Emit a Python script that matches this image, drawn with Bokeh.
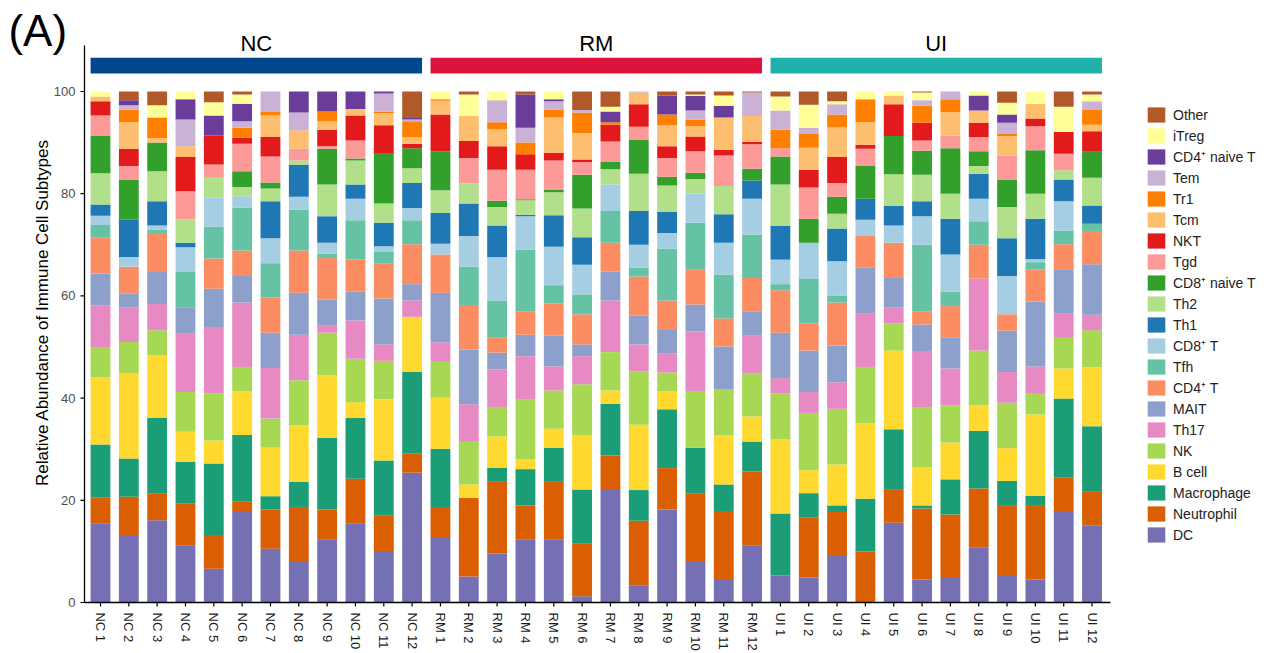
import math
from bokeh.plotting import figure
from bokeh.models import Range1d, FixedTicker, Legend, LegendItem, Label, ColumnDataSource
from bokeh.core.properties import value
from bokeh.embed import file_html
from bokeh.resources import INLINE

samples = ["NC 1", "NC 2", "NC 3", "NC 4", "NC 5", "NC 6", "NC 7", "NC 8", "NC 9", "NC 10", "NC 11", "NC 12",
           "RM 1", "RM 2", "RM 3", "RM 4", "RM 5", "RM 6", "RM 7", "RM 8", "RM 9", "RM 10", "RM 11", "RM 12",
           "UI 1", "UI 2", "UI 3", "UI 4", "UI 5", "UI 6", "UI 7", "UI 8", "UI 9", "UI 10", "UI 11", "UI 12"]
groups = ["NC", "RM", "UI"]
group_colors = ["#00478D", "#DC143C", "#20B2AA"]
y_ticks = [0, 20, 40, 60, 80, 100]
y_label = "Relative Abundance of Immune Cell Subtypes"

# stack order: bottom -> top
keys = ["DC", "Neutrophil", "Macrophage", "B_cell", "NK", "Th17", "MAIT", "CD4_T", "Tfh", "CD8_T",
        "Th1", "Th2", "CD8_naive_T", "Tgd", "NKT", "Tcm", "Tr1", "Tem", "CD4_naive_T", "iTreg", "Other"]
labels = ["DC", "Neutrophil", "Macrophage", "B cell", "NK", "Th17", "MAIT", "CD4\u207a T", "Tfh", "CD8\u207a T",
          "Th1", "Th2", "CD8\u207a naive T", "Tgd", "NKT", "Tcm", "Tr1", "Tem", "CD4\u207a naive T", "iTreg", "Other"]
colors = ["#7570B3", "#D95F02", "#1B9E77", "#FFD92F", "#A6D854", "#E78AC3", "#8DA0CB", "#FC8D62", "#66C2A5", "#A6CEE3",
          "#1F78B4", "#B2DF8A", "#33A02C", "#FB9A99", "#E31A1C", "#FDBF6F", "#FF7F00", "#CAB2D6", "#6A3D9A", "#FFFF99", "#B15928"]

DC = [15.5, 13, 16.1, 11.1, 6.6, 17.9, 10.5, 8.1, 12.3, 15.4, 10.1, 25.4,
      12.8, 5.1, 9.6, 12.3, 12.3, 1.2, 22.2, 3.4, 18.2, 8.1, 4.4, 11.1,
      5.3, 4.9, 9.1, 0, 15.6, 4.5, 4.8, 10.7, 5.2, 4.5, 17.9, 15.1]
Neutrophil = [5.1, 7.7, 5.2, 8.3, 6.6, 1.8, 7.7, 10.6, 5.9, 8.8, 6.9, 3.7,
              5.9, 15.4, 14.0, 6.7, 11.3, 10.3, 6.6, 12.6, 8.1, 13.2, 13.5, 14.6,
              0, 11.8, 8.6, 10.0, 6.6, 13.9, 12.4, 11.6, 13.7, 14.4, 6.5, 6.7]
Macrophage = [10.3, 7.5, 14.8, 8.1, 14.0, 13.1, 2.6, 4.9, 14.0, 11.9, 10.8, 16.0,
              11.4, 0, 2.8, 7.1, 6.7, 10.6, 10.1, 6.0, 11.5, 9.0, 5.2, 5.8,
              12.1, 4.7, 1.3, 10.3, 11.7, 0.6, 6.9, 11.3, 4.9, 2.0, 15.5, 12.7]
B_cell = [13.2, 16.6, 12.3, 5.9, 4.5, 8.5, 9.5, 11.1, 12.3, 3.1, 12.0, 10.8,
          10.0, 2.6, 6.1, 1.9, 3.7, 10.7, 2.6, 12.8, 3.5, 0, 9.7, 4.9,
          14.5, 4.5, 8.0, 14.8, 15.4, 7.5, 7.2, 5.0, 6.4, 15.9, 5.9, 11.5]
NK = [5.9, 6.2, 4.9, 7.8, 9.2, 4.8, 5.7, 8.8, 8.3, 8.5, 7.5, 0,
      7.0, 8.5, 5.6, 11.7, 7.5, 9.9, 7.5, 10.4, 3.7, 11.1, 9.0, 8.4,
      9.0, 11.2, 10.9, 11.0, 5.3, 11.6, 7.3, 10.7, 8.9, 4.2, 6.0, 7.3]
Th17 = [8.1, 6.8, 5.1, 11.4, 13.0, 12.6, 9.9, 8.9, 1.5, 7.5, 3.2, 3.2,
        3.8, 7.2, 7.5, 8.5, 4.7, 5.5, 10.1, 5.3, 3.8, 11.7, 0, 7.4,
        3.0, 4.1, 5.2, 10.4, 3.2, 11.1, 7.2, 14.1, 6.0, 5.2, 4.7, 3.0]
MAIT = [6.3, 2.7, 6.3, 5.2, 7.5, 5.2, 6.9, 8.2, 5.0, 5.7, 9.0, 3.2,
        9.7, 10.7, 3.3, 4.2, 6.0, 2.3, 5.7, 5.7, 4.7, 5.2, 8.3, 4.8,
        8.9, 8.1, 7.2, 9.0, 5.7, 5.2, 6.0, 0, 8.1, 12.7, 8.7, 9.9]
CD4_T = [7.1, 5.2, 7.6, 0, 5.9, 5.0, 6.9, 8.3, 8.1, 6.2, 6.9, 7.8,
         7.5, 8.7, 2.9, 4.6, 6.3, 5.9, 5.6, 7.6, 5.6, 6.8, 5.5, 6.5,
         8.3, 5.3, 8.4, 6.2, 6.9, 2.6, 6.2, 6.6, 3.2, 6.3, 4.9, 6.5]
Tfh = [2.4, 0, 0.7, 6.9, 6.3, 8.4, 6.7, 8.0, 0.9, 7.7, 2.2, 4.7,
       0, 7.5, 7.3, 12.1, 3.6, 3.9, 6.2, 1.7, 10.2, 9.2, 8.6, 8.5,
       1.2, 8.7, 1.3, 0, 0, 13.0, 2.8, 4.6, 0, 1.4, 2.7, 1.4]
CD8_T = [1.8, 1.9, 0.8, 4.8, 5.6, 2.2, 4.9, 2.5, 2.1, 4.2, 1.1, 2.4,
         2.1, 6.0, 8.5, 6.5, 7.5, 5.8, 5.2, 4.5, 3.0, 5.7, 6.2, 7.0,
         4.8, 7.1, 6.8, 3.2, 3.4, 5.6, 7.3, 4.4, 7.5, 0.6, 5.7, 0]
Th1 = [2.2, 7.3, 4.7, 0.9, 0, 0, 7.2, 6.2, 5.2, 2.8, 4.6, 4.9,
       6.0, 6.4, 6.2, 0.3, 6.2, 5.4, 0, 6.6, 4.1, 0, 5.6, 3.6,
       6.6, 0, 6.4, 4.1, 3.8, 2.9, 7.0, 4.9, 7.4, 7.9, 4.3, 3.6]
Th2 = [6.1, 0, 5.9, 4.6, 3.9, 1.8, 2.5, 0.9, 6.2, 4.7, 3.8, 2.9,
       4.5, 3.9, 3.6, 2.8, 4.5, 5.6, 3.0, 7.3, 5.2, 2.9, 5.5, 0,
       8.1, 0, 2.9, 0, 6.2, 5.2, 4.9, 1.5, 6.1, 4.9, 1.8, 5.4]
CD8_naive_T = [7.4, 7.9, 5.6, 0, 0, 3.1, 1.2, 0, 7.0, 0.4, 9.7, 3.9,
               7.6, 0, 1.2, 0.2, 0.5, 6.6, 1.5, 6.7, 1.7, 1.2, 0, 2.3,
               5.5, 4.7, 3.3, 6.4, 7.5, 4.7, 8.9, 2.9, 5.4, 8.5, 0, 5.1]
Tgd = [3.9, 2.6, 0, 5.5, 2.6, 5.4, 5.1, 2.3, 0.5, 3.5, 0, 0,
       0, 5.0, 6.1, 5.8, 5.7, 2.5, 3.9, 2.5, 3.7, 4.2, 6.0, 4.8,
       1.6, 6.1, 2.7, 3.4, 0, 2.0, 2.5, 2.8, 4.7, 4.7, 3.2, 0]
NKT = [2.8, 3.4, 0, 6.7, 5.7, 1.2, 3.8, 0, 3.2, 4.9, 5.6, 0.9,
       7.2, 3.3, 4.6, 3.0, 1.5, 0.5, 3.3, 4.4, 2.3, 2.9, 1.1, 0.4,
       0, 3.5, 5.1, 0.8, 6.2, 3.5, 0, 2.8, 0, 1.5, 4.3, 4.0]
Tcm = [0.9, 5.2, 0.9, 2.1, 0, 0, 4.2, 3.6, 1.7, 1.3, 2.4, 1.3,
       2.7, 4.9, 3.3, 0, 6.9, 5.2, 0, 2.3, 4.1, 2.0, 6.3, 5.1,
       0, 4.3, 5.8, 4.4, 1.7, 0, 4.6, 2.4, 3.8, 2.9, 0, 1.3]
Tr1 = [0, 2.5, 4.0, 0, 0, 1.9, 0.7, 0, 1.9, 0, 0.3, 3.1,
       0.3, 0, 1.4, 2.3, 1.6, 4.0, 0.5, 0, 2.1, 1.3, 0, 0,
       3.6, 2.7, 2.5, 4.5, 0, 3.3, 2.5, 0, 0.4, 0, 0, 2.9]
Tem = [0, 0.8, 0, 5.2, 0, 1.3, 4.0, 3.5, 0, 0, 3.5, 0.3,
       0, 0, 4.3, 2.9, 1.6, 0.5, 0, 0.2, 0, 1.8, 0, 4.6,
       3.8, 1.2, 2.0, 0, 0, 1.1, 1.5, 0, 2.2, 0, 0, 1.7]
CD4_naive_T = [0, 1.0, 0, 4.0, 3.9, 3.4, 0, 4.1, 3.9, 3.4, 0.4, 0.3,
               0, 0, 0, 6.5, 0.4, 0, 2.1, 0, 3.7, 2.8, 2.3, 0,
               0, 0, 0, 0, 0, 0, 0, 2.9, 1.6, 0, 0, 0]
iTreg = [1.0, 0, 2.4, 1.5, 2.6, 1.8, 0, 0, 0, 0, 0, 0,
         1.5, 4.2, 1.7, 0, 1.5, 0, 0.9, 0, 0, 0.3, 2.0, 0,
         2.7, 4.5, 0.6, 1.5, 0.8, 1.5, 0, 0.8, 2.3, 2.4, 4.9, 1.3]
Other = [0, 1.7, 2.7, 0, 2.1, 0.6, 0, 0, 0, 0, 0, 5.2,
         0, 0.6, 0, 0.6, 0, 3.6, 3.0, 0, 0.8, 0.6, 0.8, 0.2,
         1.0, 2.6, 1.9, 0, 0, 0.2, 0, 0, 2.2, 0, 3.0, 0.6]

series = [DC, Neutrophil, Macrophage, B_cell, NK, Th17, MAIT, CD4_T, Tfh, CD8_T,
          Th1, Th2, CD8_naive_T, Tgd, NKT, Tcm, Tr1, Tem, CD4_naive_T, iTreg, Other]

xs = list(range(1, len(samples) + 1))
data = {"x": xs}
for k, s in zip(keys, series):
    data[k] = s
source = ColumnDataSource(data)

FONT = "Liberation Sans"
BAR_W = 0.7
X0, X1 = -2.5298, 42.158      # data range covering the whole canvas width
AX_X = 0.4352                 # position of the y axis line
AX_XEND = 36.65               # end of the x axis line
Y_BOT, Y_TOP = -1.5656, 117.81
TICK_LEN = 0.78               # 4 px in data units

p = figure(width=1266, height=653,
           x_range=Range1d(X0, X1), y_range=Range1d(Y_BOT, Y_TOP),
           y_axis_location=None,
           output_backend="svg", toolbar_location=None,
           min_border_left=0, min_border_top=0, min_border_bottom=43, min_border_right=0)
p.background_fill_color = "white"
p.border_fill_color = "white"
p.outline_line_color = None
p.xgrid.visible = False
p.ygrid.visible = False

renderers = p.vbar_stack(keys, x="x", width=BAR_W, color=colors, source=source, line_color=None)

# group header bars
n_per = len(samples) // len(groups)
lefts = [xs[i * n_per] - BAR_W / 2 for i in range(len(groups))]
rights = [xs[(i + 1) * n_per - 1] + BAR_W / 2 for i in range(len(groups))]
p.quad(left=lefts, right=rights, bottom=103.5, top=106.6, color=group_colors, line_color=None)
p.text(x=[(l + r) / 2 for l, r in zip(lefts, rights)], y=[109.4] * len(groups), text=groups,
       text_align="center", text_baseline="middle", text_font=value(FONT),
       text_font_size="22px", text_color="black")

p.add_layout(Label(x=X0 + 0.28, y=111.9, text="(A)", text_align="left", text_baseline="middle",
                   text_font=FONT, text_font_size="44px", text_color="black"))

# y axis (drawn by hand so the canvas can hold the header and legend)
p.segment(x0=[AX_X], y0=[0], x1=[AX_X], y1=[109], line_color="black", line_width=1.3)
p.segment(x0=[AX_X - 0.141] * len(y_ticks), y0=y_ticks, x1=[AX_X] * len(y_ticks), y1=y_ticks,
          line_color="black", line_width=1.2)
p.text(x=[AX_X - 0.32] * len(y_ticks), y=y_ticks, text=[str(t) for t in y_ticks],
       text_align="right", text_baseline="middle", text_font=value(FONT),
       text_font_size="13px", text_color="#4D4D4D")
p.text(x=[-1.047], y=[56.75], text=[y_label], angle=math.pi / 2,
       text_align="center", text_baseline="middle", text_font=value(FONT),
       text_font_size="17px", text_color="black")

# x axis line and tick marks
p.segment(x0=[AX_X], y0=[0], x1=[AX_XEND], y1=[0], line_color="black", line_width=1.3)
p.segment(x0=xs, y0=[0] * len(xs), x1=xs, y1=[-TICK_LEN] * len(xs), line_color="black", line_width=1.2)

p.xaxis.ticker = FixedTicker(ticks=xs)
p.xaxis.major_label_overrides = {x: s for x, s in zip(xs, samples)}
p.xaxis.major_label_orientation = -math.pi / 2
p.xaxis.major_label_text_font = FONT
p.xaxis.major_label_text_font_size = "13px"
p.xaxis.major_label_text_color = "#1A1A1A"
p.xaxis.axis_line_color = None
p.xaxis.major_tick_line_color = None
p.xaxis.major_tick_in = 0
p.xaxis.major_tick_out = 0
p.xaxis.minor_tick_line_color = None
p.xaxis.major_label_standoff = 2

items = [LegendItem(label=lab, renderers=[r]) for lab, r in zip(labels, renderers)][::-1]
legend = Legend(items=items, location=(1145, 66), orientation="vertical",
                label_text_font=FONT, label_text_font_size="14px", label_text_color="#222222",
                glyph_width=22, glyph_height=19, label_height=19, spacing=2, label_standoff=6,
                padding=4, margin=0, border_line_color=None, background_fill_alpha=0)
p.add_layout(legend)

open("out.html", "w").write(file_html(p, INLINE))
